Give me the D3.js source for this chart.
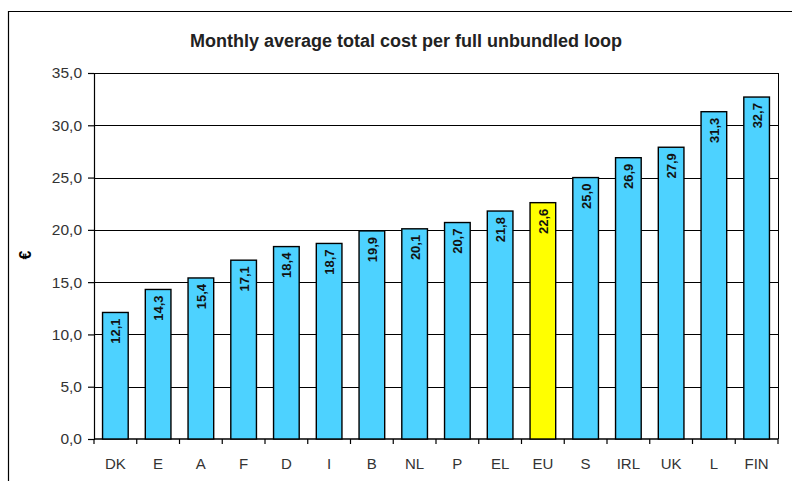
<!DOCTYPE html>
<html>
<head>
<meta charset="utf-8">
<script src="https://cdnjs.cloudflare.com/ajax/libs/d3/7.8.5/d3.min.js"></script>
<style>
  body { margin: 0; background: #fff; }
  svg { display: block; font-family: "Liberation Sans", Arial, sans-serif; }
  .tick text { fill: #333; font-size: 15.5px; }
</style>
</head>
<body>
<script>
// data
var countries = ["DK", "E", "A", "F", "D", "I", "B", "NL", "P", "EL", "EU", "S", "IRL", "UK", "L", "FIN"];
var costs = [12.1, 14.3, 15.4, 17.1, 18.4, 18.7, 19.9, 20.1, 20.7, 21.8, 22.6, 25.0, 26.9, 27.9, 31.3, 32.7];
var yTicks = [0, 5, 10, 15, 20, 25, 30, 35];
var highlight = "EU";

var W = 792, H = 481;
var margin = {top: 73, right: 14, bottom: 42, left: 94};
var width = W - margin.left - margin.right,
    height = H - margin.top - margin.bottom;

var fmt = function(v) { return d3.format(".1f")(v).replace(".", ","); };

var svg = d3.select("body").append("svg")
    .attr("width", W)
    .attr("height", H);

// outer frame (only the top and left edges show in the picture)
svg.append("path")
    .attr("d", "M8.5," + H + "V11.5H" + W)
    .attr("fill", "none")
    .attr("stroke", "#000")
    .attr("stroke-width", 1.2);

svg.append("text")
    .attr("x", 406)
    .attr("y", 47)
    .attr("text-anchor", "middle")
    .style("font-size", "18px")
    .style("font-weight", "bold")
    .attr("fill", "#222")
    .text("Monthly average total cost per full unbundled loop");

svg.append("text")
    .attr("transform", "translate(31,255) rotate(-90)")
    .attr("text-anchor", "middle")
    .style("font-size", "16px")
    .style("font-weight", "bold")
    .text("€");

var g = svg.append("g")
    .attr("transform", "translate(" + margin.left + "," + margin.top + ")");

var x = d3.scaleBand()
    .domain(countries)
    .range([0, width])
    .paddingInner(0.4)
    .paddingOuter(0.2);

var y = d3.scaleLinear()
    .domain([0, 35])
    .range([height, 0]);

// gridlines
g.selectAll(".grid")
    .data(yTicks.slice(1))
    .enter().append("line")
    .attr("x1", 0)
    .attr("x2", width)
    .attr("y1", function(d) { return Math.round(y(d)) + 0.5; })
    .attr("y2", function(d) { return Math.round(y(d)) + 0.5; })
    .attr("stroke", "#000")
    .attr("stroke-width", 1);

// right edge of plot
g.append("line")
    .attr("x1", width + 0.5).attr("x2", width + 0.5)
    .attr("y1", 0).attr("y2", height)
    .attr("stroke", "#000");

// y axis
var yAxis = g.append("g")
    .call(d3.axisLeft(y).tickValues(yTicks).tickFormat(fmt).tickSize(6).tickPadding(6));
yAxis.selectAll("line, path").attr("stroke", "#000").attr("stroke-width", 1.2);

// x axis with ticks between categories
var step = x.step();
var xAxis = g.append("g").attr("transform", "translate(0," + height + ")");
xAxis.append("line")
    .attr("x1", 0).attr("x2", width)
    .attr("stroke", "#000").attr("stroke-width", 1.5);
xAxis.selectAll(".sep")
    .data(d3.range(countries.length + 1))
    .enter().append("line")
    .attr("x1", function(i) { return x(countries[0]) - x.paddingOuter() * step + i * step; })
    .attr("x2", function(i) { return x(countries[0]) - x.paddingOuter() * step + i * step; })
    .attr("y1", 0).attr("y2", 5)
    .attr("stroke", "#000").attr("stroke-width", 1.2);
xAxis.selectAll(".lbl")
    .data(countries)
    .enter().append("text")
    .attr("x", function(d) { return x(d) + x.bandwidth() / 2; })
    .attr("y", 30)
    .attr("text-anchor", "middle")
    .attr("fill", "#333")
    .style("font-size", "15px")
    .text(function(d) { return d; });

// bars
g.selectAll(".bar")
    .data(countries)
    .enter().append("rect")
    .attr("x", function(d) { return x(d); })
    .attr("y", function(d, i) { return y(costs[i]); })
    .attr("width", x.bandwidth())
    .attr("height", function(d, i) { return height - y(costs[i]); })
    .attr("fill", function(d) { return d === highlight ? "#ffff00" : "#4dd2ff"; })
    .attr("stroke", "#000")
    .attr("stroke-width", 1.4);

// value labels
g.selectAll(".val")
    .data(countries)
    .enter().append("text")
    .attr("transform", function(d, i) {
      return "translate(" + (x(d) + x.bandwidth() / 2 + 5) + "," + (y(costs[i]) + 6) + ") rotate(-90)";
    })
    .attr("text-anchor", "end")
    .style("font-size", "13px")
    .style("font-weight", "bold")
    .attr("fill", "#111")
    .text(function(d, i) { return fmt(costs[i]); });
</script>
</body>
</html>
